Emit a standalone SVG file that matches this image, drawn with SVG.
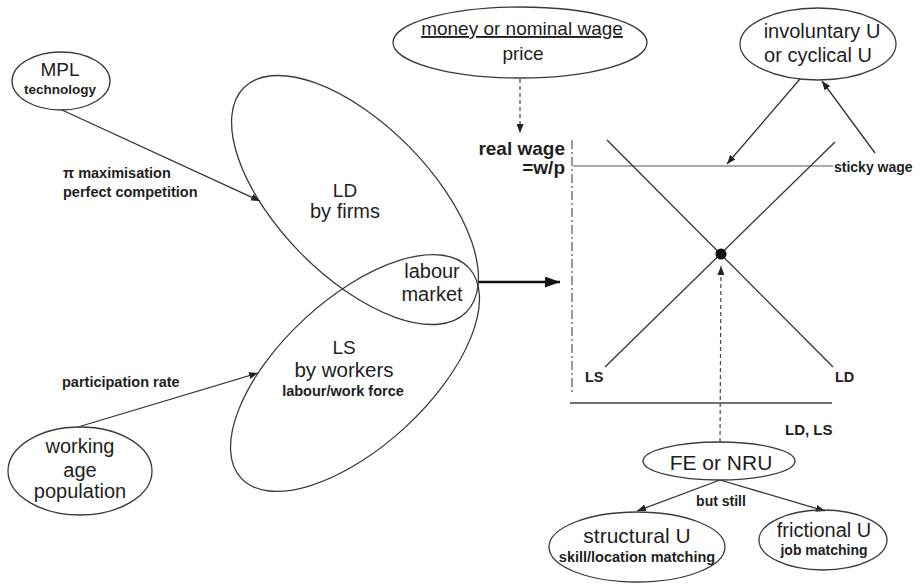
<svg xmlns="http://www.w3.org/2000/svg" width="920" height="585" viewBox="0 0 920 585">
<defs>
<style>
text{font-family:"Liberation Sans",Arial,sans-serif;fill:#1e1e1e}
.c{text-anchor:middle}
.b{font-weight:bold}
.node{fill:none;stroke:#3a3a3a;stroke-width:1.3}
.ln{fill:none;stroke:#333;stroke-width:1.3}
.dash{fill:none;stroke:#444;stroke-width:1.2;stroke-dasharray:4 3}
</style>
<marker id="ah" markerUnits="userSpaceOnUse" markerWidth="9" markerHeight="7" refX="9" refY="3.5" orient="auto"><path d="M0,0 L9,3.5 L0,7 z" fill="#222"/></marker>
<marker id="big" markerUnits="userSpaceOnUse" markerWidth="15" markerHeight="11" refX="15" refY="5.5" orient="auto"><path d="M0,0 L15,5.5 L0,11 z" fill="#111"/></marker>
</defs>
<rect width="920" height="585" fill="#fff"/>

<g id="connectors">
<line class="ln" x1="62" y1="110" x2="260" y2="201" marker-end="url(#ah)"/>
<line class="ln" x1="78" y1="427" x2="258" y2="373" marker-end="url(#ah)"/>
<line x1="478" y1="282" x2="560" y2="282" stroke="#111" stroke-width="2.6" marker-end="url(#big)"/>
<line class="dash" x1="520" y1="79" x2="520" y2="133" marker-end="url(#ah)"/>
<line class="ln" x1="800" y1="79" x2="727" y2="164" marker-end="url(#ah)"/>
<line class="ln" x1="875" y1="153" x2="822" y2="81" marker-end="url(#ah)"/>
<line class="dash" x1="720" y1="442" x2="721" y2="266" marker-end="url(#ah)"/>
<line class="ln" x1="720" y1="480" x2="637" y2="511" marker-end="url(#ah)"/>
<line class="ln" x1="720" y1="480" x2="825" y2="511" marker-end="url(#ah)"/>
</g>

<g id="graph">
<line x1="572" y1="140" x2="572" y2="392" stroke="#555" stroke-width="1.2" stroke-dasharray="9 3 2 3"/>
<line x1="570" y1="403" x2="832" y2="403" stroke="#444" stroke-width="1.3"/>
<line x1="573" y1="166" x2="833" y2="166" stroke="#555" stroke-width="1.2"/>
<line class="ln" x1="607" y1="140" x2="833" y2="367"/>
<line class="ln" x1="605" y1="367" x2="835" y2="142"/>
<circle cx="721" cy="254" r="5.5" fill="#111"/>
<text class="b" x="565" y="155" font-size="19" text-anchor="end">real wage</text>
<text class="b" x="565" y="174" font-size="19" text-anchor="end">=w/p</text>
<text class="b" x="834" y="172" font-size="14">sticky wage</text>
<text class="b" x="585" y="382" font-size="14.5">LS</text>
<text class="b" x="835" y="382" font-size="14.5">LD</text>
<text class="b" x="785" y="435" font-size="15">LD, LS</text>
</g>

<g id="mpl">
<ellipse class="node" cx="61" cy="81" rx="49" ry="29"/>
<text class="c" x="60" y="76" font-size="19">MPL</text>
<text class="c b" x="60" y="94" font-size="13.5">technology</text>
</g>

<g id="label-max">
<text class="b" x="63" y="178" font-size="14.5">π maximisation</text>
<text class="b" x="63" y="197" font-size="14.5">perfect competition</text>
</g>

<g id="label-part">
<text class="b" x="62" y="387" font-size="14.5">participation rate</text>
</g>

<g id="ld">
<ellipse class="node" cx="355" cy="200" rx="158" ry="76" transform="rotate(45.4 355 200)"/>
<text class="c" x="345" y="197" font-size="19">LD</text>
<text class="c" x="345" y="218" font-size="20">by firms</text>
</g>

<g id="ls">
<ellipse class="node" cx="355" cy="373" rx="155" ry="74" transform="rotate(-42.7 355 373)"/>
<text class="c" x="344" y="354" font-size="19">LS</text>
<text class="c" x="344" y="377" font-size="20.5">by workers</text>
<text class="c b" x="343" y="396" font-size="14.5">labour/work force</text>
</g>

<g id="labour-market">
<text class="c" x="432" y="278" font-size="20">labour</text>
<text class="c" x="432" y="301" font-size="20">market</text>
</g>

<g id="working-age">
<ellipse class="node" cx="80" cy="471" rx="72" ry="44"/>
<text class="c" x="80" y="453" font-size="20">working</text>
<text class="c" x="80" y="477" font-size="20">age</text>
<text class="c" x="80" y="498" font-size="20">population</text>
</g>

<g id="money">
<ellipse class="node" cx="520" cy="42.5" rx="127" ry="35.5"/>
<text class="c" x="522" y="35" font-size="19" text-decoration="underline">money or nominal wage</text>
<text class="c" x="523" y="60" font-size="19">price</text>
</g>

<g id="involuntary">
<ellipse class="node" cx="818" cy="44" rx="78" ry="36"/>
<text class="c" x="822" y="38" font-size="20">involuntary U</text>
<text class="c" x="818" y="62" font-size="20">or cyclical U</text>
</g>

<g id="fe">
<ellipse class="node" cx="719" cy="461" rx="76" ry="19"/>
<text class="c" x="721" y="470" font-size="21">FE or NRU</text>
<text class="c b" x="721" y="506" font-size="14">but still</text>
</g>

<g id="structural">
<ellipse class="node" cx="637" cy="547" rx="88" ry="35"/>
<text class="c" x="637" y="543" font-size="21">structural U</text>
<text class="c b" x="637" y="562" font-size="14.5">skill/location matching</text>
</g>

<g id="frictional">
<ellipse class="node" cx="823" cy="540" rx="64" ry="30"/>
<text class="c" x="824" y="537" font-size="20">frictional U</text>
<text class="c b" x="824" y="555" font-size="14">job matching</text>
</g>
</svg>
